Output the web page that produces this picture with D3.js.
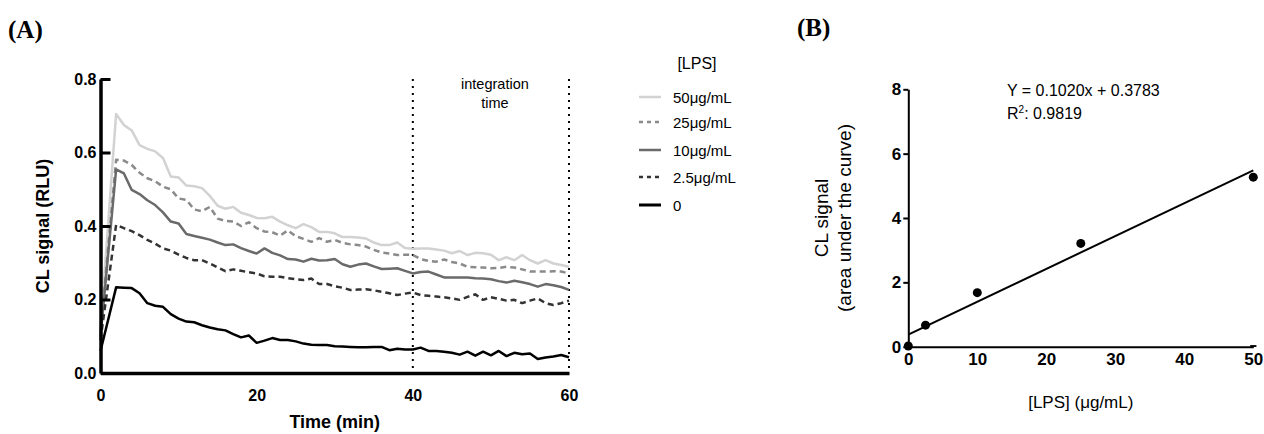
<!DOCTYPE html>
<html>
<head>
<meta charset="utf-8">
<script src="https://cdn.jsdelivr.net/npm/d3@7"></script>
<style>
  body { margin: 0; background: #fff; }
  text { font-family: "Liberation Sans", Arial, sans-serif; }
</style>
</head>
<body>
<div id="chart"></div>
<script>
// Panel A: CL signal over time, one curve per LPS concentration
const times = [0, 2, 3, 4, 5, 6, 7, 8, 9, 10, 11, 12, 13, 14, 15, 16, 17, 18, 19, 20,
  21, 22, 23, 24, 25, 26, 27, 28, 29, 30, 31, 32, 33, 34, 35, 36, 37, 38, 39, 40,
  41, 42, 43, 44, 45, 46, 47, 48, 49, 50, 51, 52, 53, 54, 55, 56, 57, 58, 59, 60];

const lps50 = [0.12, 0.705, 0.675, 0.66, 0.62, 0.61, 0.603, 0.585, 0.535, 0.532, 0.51, 0.508, 0.503, 0.482, 0.455, 0.447, 0.452, 0.436, 0.43, 0.422,
  0.421, 0.425, 0.412, 0.402, 0.394, 0.405, 0.397, 0.384, 0.384, 0.38, 0.37, 0.37, 0.369, 0.366, 0.355, 0.348, 0.348, 0.355, 0.34, 0.338,
  0.339, 0.339, 0.336, 0.333, 0.326, 0.332, 0.321, 0.327, 0.326, 0.322, 0.307, 0.315, 0.307, 0.321, 0.307, 0.298, 0.307, 0.298, 0.294, 0.289];
const lps25 = [0.11, 0.58, 0.578, 0.566, 0.545, 0.53, 0.522, 0.507, 0.5, 0.475, 0.471, 0.445, 0.44, 0.452, 0.42, 0.414, 0.412, 0.4, 0.41, 0.394,
  0.385, 0.383, 0.374, 0.388, 0.372, 0.365, 0.357, 0.367, 0.357, 0.362, 0.354, 0.35, 0.348, 0.344, 0.335, 0.328, 0.325, 0.321, 0.322, 0.321,
  0.31, 0.305, 0.303, 0.309, 0.302, 0.298, 0.289, 0.288, 0.287, 0.285, 0.286, 0.289, 0.287, 0.282, 0.276, 0.276, 0.276, 0.277, 0.276, 0.271];
const lps10 = [0.1, 0.554, 0.543, 0.498, 0.487, 0.47, 0.457, 0.437, 0.412, 0.407, 0.378, 0.373, 0.368, 0.363, 0.355, 0.348, 0.35, 0.34, 0.332, 0.325,
  0.339, 0.327, 0.32, 0.31, 0.309, 0.303, 0.311, 0.306, 0.307, 0.31, 0.296, 0.289, 0.295, 0.298, 0.29, 0.283, 0.284, 0.285, 0.278, 0.271,
  0.275, 0.276, 0.268, 0.26, 0.26, 0.26, 0.26, 0.258, 0.257, 0.255, 0.25, 0.246, 0.251, 0.247, 0.242, 0.235, 0.242, 0.239, 0.234, 0.226];
const lps2_5 = [0.09, 0.403, 0.394, 0.386, 0.375, 0.362, 0.352, 0.339, 0.333, 0.322, 0.313, 0.307, 0.307, 0.298, 0.287, 0.277, 0.282, 0.278, 0.274, 0.271,
  0.263, 0.262, 0.262, 0.258, 0.255, 0.253, 0.257, 0.242, 0.242, 0.236, 0.232, 0.226, 0.227, 0.228, 0.225, 0.221, 0.217, 0.212, 0.216, 0.219,
  0.212, 0.21, 0.208, 0.206, 0.203, 0.199, 0.207, 0.214, 0.199, 0.206, 0.202, 0.197, 0.199, 0.19, 0.197, 0.203, 0.19, 0.185, 0.19, 0.197];
const lps0 = [0.06, 0.233, 0.232, 0.231, 0.217, 0.19, 0.183, 0.18, 0.16, 0.148, 0.14, 0.138, 0.13, 0.124, 0.119, 0.116, 0.106, 0.097, 0.102, 0.082,
  0.088, 0.095, 0.09, 0.09, 0.086, 0.08, 0.077, 0.076, 0.076, 0.073, 0.072, 0.071, 0.07, 0.07, 0.071, 0.071, 0.062, 0.066, 0.064, 0.064,
  0.069, 0.06, 0.06, 0.058, 0.055, 0.05, 0.058, 0.047, 0.058, 0.048, 0.06, 0.046, 0.055, 0.051, 0.053, 0.038, 0.042, 0.045, 0.049, 0.043];

const seriesLabels = ["50\u03bcg/mL", "25\u03bcg/mL", "10\u03bcg/mL", "2.5\u03bcg/mL", "0"];
const seriesValues = [lps50, lps25, lps10, lps2_5, lps0];
const timeTicks = [0, 20, 40, 60];
const signalTicks = [0, 0.2, 0.4, 0.6, 0.8];
const integrationWindow = [40, 60];

// Panel B: area under the curve vs concentration
const lpsConc = [0, 2.5, 10, 25, 50];
const aucMean = [0.02, 0.67, 1.68, 3.21, 5.27];
const aucErr = [0, 0, 0, 0, 0.15];
const fitSlope = 0.1020, fitIntercept = 0.3783;
const concTicks = [0, 10, 20, 30, 40, 50];
const aucTicks = [0, 2, 4, 6, 8];

const W = 1264, H = 434;
const styles = [
  { color: "#d2d2d2", dash: null, width: 2.5 },
  { color: "#8a8a8a", dash: "6 4", width: 2.5 },
  { color: "#6a6a6a", dash: null, width: 2.5 },
  { color: "#333333", dash: "6 4", width: 2.5 },
  { color: "#000000", dash: null, width: 2.5 }
];

const svg = d3.select("#chart").append("svg")
  .attr("width", W).attr("height", H);

// ---------- Panel A ----------
const xA = d3.scaleLinear().domain([0, 60]).range([100.5, 569]);
const yA = d3.scaleLinear().domain([0, 0.8]).range([373, 79]);

svg.append("text")
  .attr("x", 8).attr("y", 38)
  .style("font-family", "'Liberation Serif', 'DejaVu Serif', serif")
  .style("font-weight", "bold").style("font-size", "25px")
  .text("(A)");

// integration window markers
svg.selectAll(".win").data(integrationWindow).enter().append("line")
  .attr("x1", d => xA(d)).attr("x2", d => xA(d))
  .attr("y1", yA(0.8)).attr("y2", yA(0))
  .attr("stroke", "#000").attr("stroke-width", 2)
  .attr("stroke-dasharray", "2 5");

const itText = svg.append("text")
  .attr("x", xA(d3.mean(integrationWindow)) + 4).attr("y", 89)
  .attr("text-anchor", "middle")
  .style("font-size", "14.5px");
itText.append("tspan").text("integration");
itText.append("tspan").attr("x", xA(d3.mean(integrationWindow)) + 4).attr("dy", 19).text("time");

const lineA = d3.line()
  .x((d, i) => xA(times[i]))
  .y(d => yA(d));

svg.selectAll(".series").data(seriesValues).enter().append("path")
  .attr("d", lineA)
  .attr("fill", "none")
  .attr("stroke", (d, i) => styles[i].color)
  .attr("stroke-width", (d, i) => styles[i].width)
  .attr("stroke-dasharray", (d, i) => styles[i].dash)
  .attr("stroke-linejoin", "round");

const axA_y = svg.append("g")
  .attr("transform", `translate(${xA(0)},0)`)
  .call(d3.axisLeft(yA).tickValues(signalTicks).tickFormat(d3.format(".1f"))
    .tickSizeInner(-10).tickSizeOuter(0).tickPadding(4));
const axA_x = svg.append("g")
  .attr("transform", `translate(0,${yA(0)})`)
  .call(d3.axisBottom(xA).tickValues(timeTicks).tickSize(0).tickPadding(17));
[axA_y, axA_x].forEach(g => {
  g.select(".domain").attr("stroke-width", 3.5);
  g.selectAll(".tick line").attr("stroke-width", 3);
  g.selectAll("text").style("font-size", "16px").style("font-weight", "bold")
    .style("font-family", "'Liberation Sans', Arial, sans-serif").attr("fill", "#000");
});

svg.append("text")
  .attr("x", (xA(0) + xA(60)) / 2).attr("y", 428)
  .attr("text-anchor", "middle")
  .style("font-size", "18px").style("font-weight", "bold")
  .text("Time (min)");

svg.append("text")
  .attr("transform", `translate(49,${(yA(0) + yA(0.8)) / 2}) rotate(-90)`)
  .attr("text-anchor", "middle")
  .style("font-size", "18px").style("font-weight", "bold")
  .text("CL signal (RLU)");

// legend
svg.append("text")
  .attr("x", 697).attr("y", 69)
  .attr("text-anchor", "middle")
  .style("font-size", "16px")
  .text("[LPS]");
const legRows = [97, 122, 150, 177, 205];
const leg = svg.selectAll(".leg").data(seriesLabels).enter().append("g")
  .attr("transform", (d, i) => `translate(639,${legRows[i]})`);
leg.append("line")
  .attr("x1", 0).attr("x2", 22).attr("y1", 0).attr("y2", 0)
  .attr("stroke", (d, i) => styles[i].color)
  .attr("stroke-width", (d, i) => i === 4 ? 3 : styles[i].width)
  .attr("stroke-dasharray", (d, i) => styles[i].dash ? "4 4" : null);
leg.append("text")
  .attr("x", 34).attr("y", 5.5)
  .style("font-size", "15px")
  .text(d => d);

// ---------- Panel B ----------
const xB = d3.scaleLinear().domain([0, 50]).range([908.3, 1253.3]);
const yB = d3.scaleLinear().domain([0, 8]).range([346.7, 89.3]);

svg.append("text")
  .attr("x", 797).attr("y", 36)
  .style("font-family", "'Liberation Serif', 'DejaVu Serif', serif")
  .style("font-weight", "bold").style("font-size", "25px")
  .text("(B)");

const axB_y = svg.append("g")
  .attr("transform", `translate(${xB(0)},0)`)
  .call(d3.axisLeft(yB).tickValues(aucTicks).tickSizeInner(5).tickSizeOuter(0).tickPadding(2));
const axB_x = svg.append("g")
  .attr("transform", `translate(0,${yB(0)})`)
  .call(d3.axisBottom(xB).tickValues(concTicks).tickSizeInner(0).tickSizeOuter(0).tickPadding(6));
[axB_y, axB_x].forEach(g => {
  g.select(".domain").attr("stroke-width", 2);
  g.selectAll(".tick line").attr("stroke-width", 2);
  g.selectAll("text").style("font-size", "17px").style("font-weight", "bold")
    .style("font-family", "'Liberation Sans', Arial, sans-serif").attr("fill", "#000");
});

// regression line
svg.append("line")
  .attr("x1", xB(0)).attr("y1", yB(fitIntercept))
  .attr("x2", xB(50)).attr("y2", yB(fitSlope * 50 + fitIntercept))
  .attr("stroke", "#000").attr("stroke-width", 2);

// error bars + points
const pts = svg.selectAll(".pt").data(lpsConc).enter().append("g");
pts.filter((d, i) => aucErr[i] > 0).append("line")
  .attr("x1", d => xB(d)).attr("x2", d => xB(d))
  .attr("y1", (d, i) => yB(aucMean[i] - aucErr[i]))
  .attr("y2", (d, i) => yB(aucMean[i] + aucErr[i]))
  .attr("stroke", "#000").attr("stroke-width", 1.5);
pts.filter((d, i) => aucErr[i] > 0).selectAll(".cap")
  .data((d, i) => [[d, aucMean[i] - aucErr[i]], [d, aucMean[i] + aucErr[i]]])
  .enter().append("line")
  .attr("x1", d => xB(d[0]) - 3).attr("x2", d => xB(d[0]) + 3)
  .attr("y1", d => yB(d[1])).attr("y2", d => yB(d[1]))
  .attr("stroke", "#000").attr("stroke-width", 1.5);
pts.append("circle")
  .attr("cx", d => xB(d)).attr("cy", (d, i) => yB(aucMean[i]))
  .attr("r", 4.5).attr("fill", "#000");

svg.append("text")
  .attr("x", 1007).attr("y", 96)
  .style("font-size", "16px")
  .text("Y = 0.1020x + 0.3783");
const r2 = svg.append("text")
  .attr("x", 1007).attr("y", 119)
  .style("font-size", "16px");
r2.append("tspan").text("R");
r2.append("tspan").attr("dy", -6).style("font-size", "10px").text("2");
r2.append("tspan").attr("dy", 6).text(": 0.9819");

svg.append("text")
  .attr("x", (xB(0) + xB(50)) / 2).attr("y", 408)
  .attr("text-anchor", "middle")
  .style("font-size", "17px")
  .text("[LPS] (\u03bcg/mL)");

const yLabB = svg.append("text")
  .attr("transform", `translate(828,${(yB(0) + yB(8)) / 2}) rotate(-90)`)
  .attr("text-anchor", "middle")
  .style("font-size", "19px");
yLabB.append("tspan").attr("x", 0).attr("y", 0).text("CL signal");
yLabB.append("tspan").attr("x", 0).attr("y", 23).text("(area under the curve)");
</script>
</body>
</html>
